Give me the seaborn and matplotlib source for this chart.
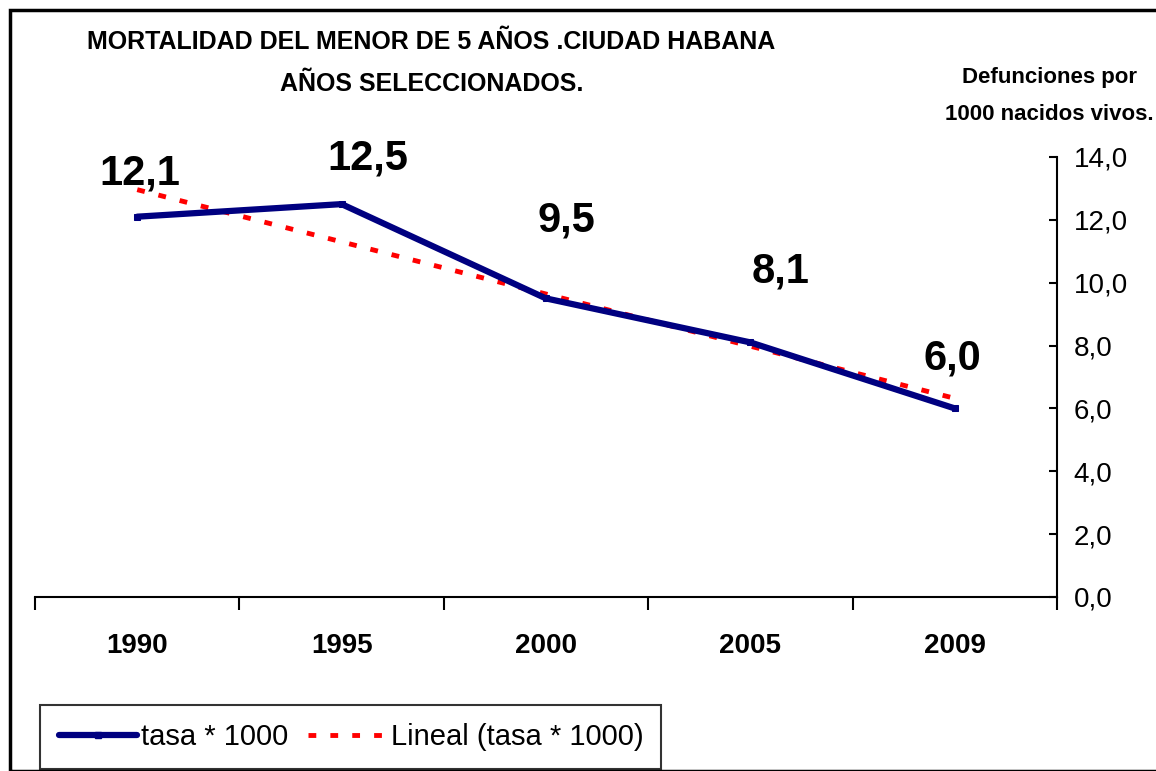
import matplotlib
matplotlib.use("Agg")
import matplotlib.pyplot as plt
import matplotlib.patches as mpatches
from matplotlib.lines import Line2D
import numpy as np
import pandas as pd
import seaborn as sns

# Datos
anios = ["1990", "1995", "2000", "2005", "2009"]
tasa = [12.1, 12.5, 9.5, 8.1, 6.0]
etiquetas = ["12,1", "12,5", "9,5", "8,1", "6,0"]
y_ticks = [0, 2, 4, 6, 8, 10, 12, 14]

# desplazamiento de las etiquetas de datos (puntos)
label_dx = [2, 19, 15, 22, -2]
label_dy = [31, 33, 56, 51, 36]

sns.set_style("white")
plt.rcParams["font.family"] = ["Liberation Sans Narrow", "Liberation Sans", "DejaVu Sans"]
plt.rcParams["text.color"] = "black"
plt.rcParams["xtick.color"] = "black"
plt.rcParams["ytick.color"] = "black"

df = pd.DataFrame({"pos": np.arange(len(anios)), "tasa": tasa})

fig = plt.figure(figsize=(11.56, 7.71), dpi=100)
ax = fig.add_axes([0.0303, 0.2257, 0.884, 0.5707])

# linea principal
sns.lineplot(data=df, x="pos", y="tasa", ax=ax, color="#000080", linewidth=4.5,
             marker="s", markersize=5, markeredgecolor="#000080", zorder=3)

# tendencia lineal
coef = np.polyfit(df["pos"], df["tasa"], 1)
trend = np.polyval(coef, df["pos"])
ax.plot(df["pos"], trend, color="#FF0000", linewidth=3.5, dashes=(1.6, 2.9), zorder=2)

# etiquetas de datos
for i, (v, t) in enumerate(zip(tasa, etiquetas)):
    ax.annotate(t, (i, v), xytext=(label_dx[i], label_dy[i]), textcoords="offset points",
                ha="center", va="center", fontsize=30, fontweight="bold")

ax.set_xlim(-0.5, len(anios) - 0.5)
ax.set_ylim(0, 14)
ax.set_xlabel("")
ax.set_ylabel("")

# eje x: marcas entre categorias, etiquetas centradas
ax.set_xticks(np.arange(-0.5, len(anios), 1.0))
ax.set_xticklabels([])
ax.set_xticks(np.arange(len(anios)), minor=True)
ax.set_xticklabels(anios, minor=True, fontsize=20, fontweight="bold")
ax.tick_params(axis="x", which="major", direction="out", length=9, width=1.5, bottom=True)
ax.tick_params(axis="x", which="minor", length=0, pad=26)

# eje y a la derecha
ax.yaxis.tick_right()
ax.set_yticks(y_ticks)
ax.set_yticklabels([f"{v:.1f}".replace(".", ",") for v in y_ticks], fontsize=20)
ax.tick_params(axis="y", direction="in", length=6, width=1.5, right=True, left=False, pad=12)

for s in ["top", "left"]:
    ax.spines[s].set_visible(False)
for s in ["bottom", "right"]:
    ax.spines[s].set_color("black")
    ax.spines[s].set_linewidth(1.5)

# titulos
fig.text(0.373, 0.945, "MORTALIDAD DEL MENOR DE 5 AÑOS .CIUDAD HABANA",
         ha="center", va="center", fontsize=18, fontweight="bold")
fig.text(0.373, 0.891, "AÑOS SELECCIONADOS.",
         ha="center", va="center", fontsize=18, fontweight="bold")
fig.text(0.908, 0.876, "Defunciones por\n1000 nacidos vivos.",
         ha="center", va="center", fontsize=16, fontweight="bold", linespacing=2.0)

# leyenda
handles = [
    Line2D([], [], color="#000080", linewidth=4.5, marker="s", markersize=4),
    Line2D([], [], color="#FF0000", linewidth=3.5, dashes=(1.6, 2.9)),
]
leg = fig.legend(handles, ["tasa * 1000", "Lineal (tasa * 1000)"],
                 loc="lower left", bbox_to_anchor=(0.035, 0.002), ncol=2,
                 fontsize=21, frameon=True, fancybox=False, handlelength=2.7,
                 handletextpad=0.12, columnspacing=0.7, borderpad=0.62,
                 borderaxespad=0)
leg.get_frame().set_edgecolor("black")
leg.get_frame().set_linewidth(1.5)

# borde del grafico
fig.patches.append(mpatches.Rectangle((0.009, 0.0), 1.0, 0.987, transform=fig.transFigure,
                                      fill=False, edgecolor="black", linewidth=2.5))

fig.savefig("out.png", dpi=100)
